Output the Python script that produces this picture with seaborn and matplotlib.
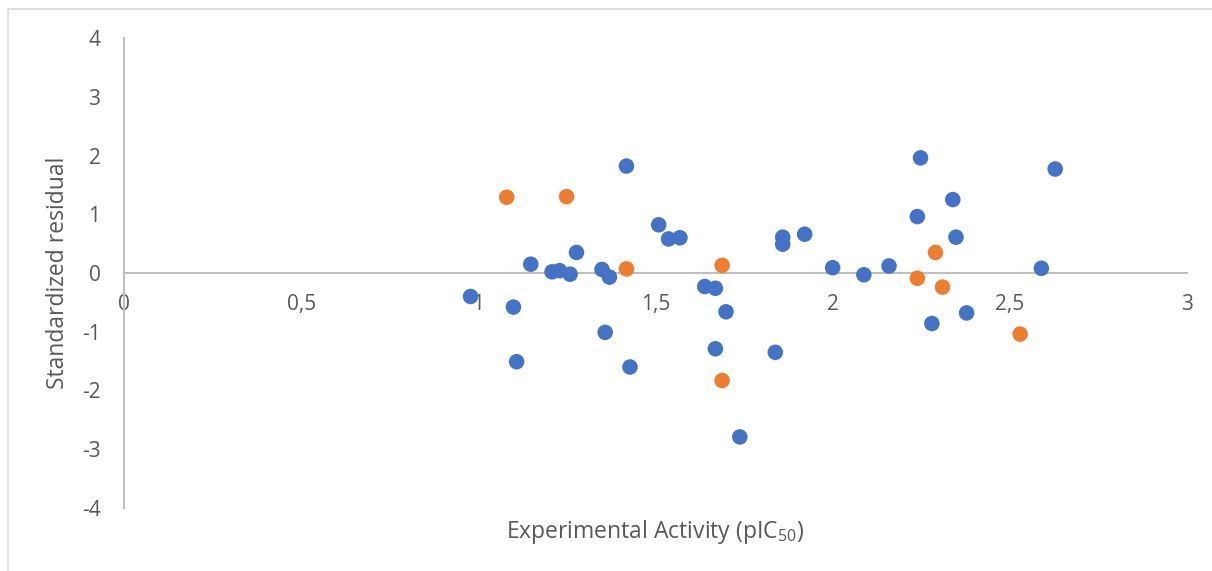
import matplotlib
matplotlib.use("Agg")
import matplotlib.pyplot as plt
import matplotlib.ticker as mticker
from matplotlib.lines import Line2D
import pandas as pd
import seaborn as sns

# training set (blue)
train_x = [0.978, 1.099, 1.108, 1.148, 1.208, 1.229, 1.259, 1.277, 1.349, 1.370,
           1.358, 1.418, 1.428, 1.509, 1.537, 1.569, 1.639, 1.669, 1.699, 1.669,
           1.738, 1.838, 1.859, 1.859, 1.921, 2.000, 2.088, 2.159, 2.248, 2.239,
           2.339, 2.348, 2.280, 2.378, 2.589, 2.628]
train_y = [-0.40, -0.58, -1.51, 0.15, 0.02, 0.04, -0.02, 0.35, 0.06, -0.07,
           -1.01, 1.82, -1.60, 0.82, 0.58, 0.60, -0.23, -0.26, -0.66, -1.29,
           -2.79, -1.35, 0.61, 0.49, 0.66, 0.09, -0.03, 0.12, 1.96, 0.96,
           1.25, 0.61, -0.86, -0.68, 0.08, 1.77]

# test set (orange)
test_x = [1.080, 1.249, 1.418, 1.688, 1.688, 2.290, 2.239, 2.310, 2.529]
test_y = [1.29, 1.30, 0.07, 0.13, -1.83, 0.35, -0.09, -0.24, -1.04]

x_ticks = [0, 0.5, 1, 1.5, 2, 2.5, 3]
y_ticks = [-4, -3, -2, -1, 0, 1, 2, 3, 4]

df = pd.DataFrame({
    "x": train_x + test_x,
    "y": train_y + test_y,
    "set": ["train"] * len(train_x) + ["test"] * len(test_x),
})

sns.set_style("white")
plt.rcParams["font.family"] = ["Open Sans", "DejaVu Sans"]
plt.rcParams["mathtext.fontset"] = "custom"
plt.rcParams["mathtext.rm"] = "Open Sans"
plt.rcParams["axes.unicode_minus"] = False

fig = plt.figure(figsize=(12.12, 5.71), dpi=100)
ax = fig.add_axes([124 / 1212, 63 / 571, 1063 / 1212, 470 / 571])

sns.scatterplot(data=df, x="x", y="y", hue="set",
                palette={"train": "#4472C4", "test": "#ED7D31"},
                s=125, edgecolor="none", linewidth=0, legend=False, ax=ax, zorder=3)

ax.set_xlim(0, 3)
ax.set_ylim(-4, 4)
ax.set_xticks(x_ticks)
ax.set_yticks(y_ticks)
ax.xaxis.set_major_formatter(mticker.FuncFormatter(lambda v, p: f"{v:g}".replace(".", ",")))

gray = "#BFBFBF"
for side in ["top", "right"]:
    ax.spines[side].set_visible(False)
ax.spines["left"].set_position(("data", 0))
ax.spines["bottom"].set_position(("data", 0))
ax.spines["left"].set_color(gray)
ax.spines["bottom"].set_color(gray)
ax.spines["left"].set_linewidth(1.5)
ax.spines["bottom"].set_linewidth(1.5)
ax.spines["bottom"].set_zorder(1)

ax.tick_params(axis="both", length=0, labelsize=15, labelcolor="#595959")
ax.tick_params(axis="y", pad=17)
ax.tick_params(axis="x", pad=15)

ax.set_xlabel("Experimental Activity (pIC$\\mathregular{_{50}}$)", fontsize=16.5, color="#595959")
ax.set_ylabel("Standardized residual", fontsize=16.5, color="#595959")
ax.xaxis.label.set_va("center")
ax.yaxis.label.set_va("center")
ax.xaxis.set_label_coords(0.5, (508 - 532) / 470)
ax.yaxis.set_label_coords((58 - 124) / 1063, 0.5)

# light border of the chart area (left and top edges visible in the crop)
fig.add_artist(Line2D([8 / 1212, 8 / 1212], [0, 1 - 9 / 571], transform=fig.transFigure,
                      color="#D9D9D9", lw=1.2))
fig.add_artist(Line2D([8 / 1212, 1], [1 - 9 / 571, 1 - 9 / 571], transform=fig.transFigure,
                      color="#D9D9D9", lw=1.2))

fig.savefig("out.png", dpi=100)
